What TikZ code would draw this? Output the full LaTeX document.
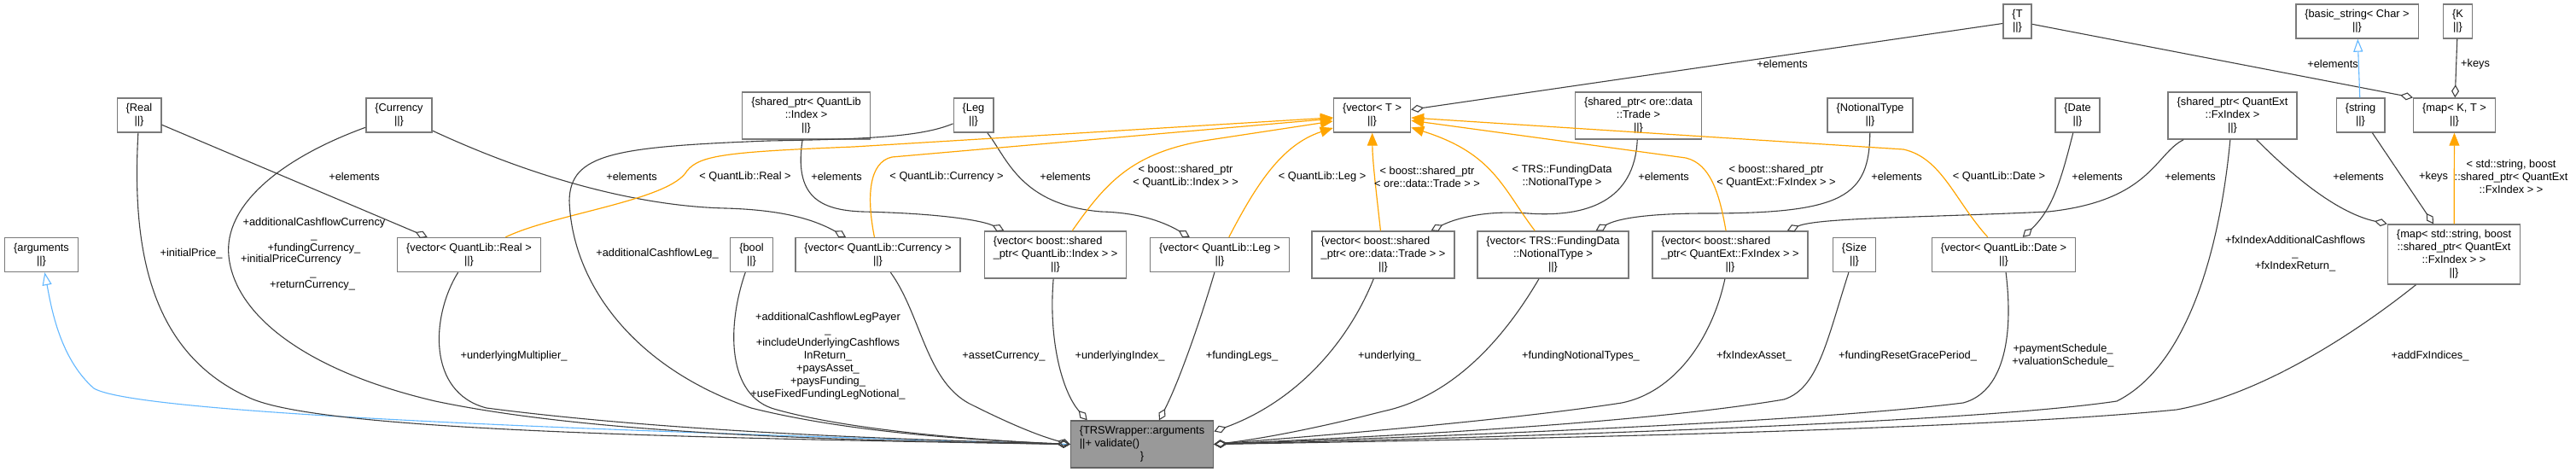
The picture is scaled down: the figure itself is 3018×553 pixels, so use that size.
\documentclass[tikz,border=0pt]{standalone}
\usepackage{fontspec}
\setmainfont{Liberation Sans}
\usetikzlibrary{arrows.meta}
\definecolor{edgegray}{HTML}{404040}
\definecolor{tmplorange}{HTML}{FFA500}
\definecolor{inhblue}{HTML}{63B8FF}
\definecolor{boxgray}{HTML}{7A7A7A}
\definecolor{mainfill}{HTML}{999999}
\newcommand{\dfont}{\fontsize{12.8}{15}\selectfont}

\begin{document}
\begin{tikzpicture}[x=1pt, y=-1pt,
        cls/.style={rectangle, draw=boxgray, line width=1.4pt, fill=white, align=center, inner xsep=10.5pt, inner ysep=6.5pt, font=\dfont},
        mainbox/.style={cls, fill=mainfill, draw=boxgray!80!black},
        lbl/.style={align=center, inner sep=0pt, font=\dfont},
        member/.style={draw=edgegray, line width=1.1pt, -{Diamond[open, length=15pt, width=9pt]}},
        tmpl/.style={draw=tmplorange, line width=1.2pt, -{Triangle[length=15pt, width=12pt]}},
        inherit/.style={draw=inhblue, line width=1.1pt, -{Triangle[open, length=15pt, width=11pt]}}
    ]
        \fill[white] (0,0) rectangle (3018,553);
        \useasboundingbox (0,0) rectangle (3018,553);

        % Fila superior
        \node[cls] (tparam) at (2363.5,25) {\{T\\||\}};
        \node[cls] (basicstring) at (2761.5,25) {\{basic\_string< Char >\\||\}};
        \node[cls] (kparam) at (2879.5,25) {\{K\\||\}};

        % Tipos de los miembros
        \node[cls] (real) at (163,135) {\{Real\\||\}};
        \node[cls] (currency) at (467.5,135) {\{Currency\\||\}};
        \node[cls] (sptrindex) at (944.5,135.5) {\{shared\_ptr< QuantLib\\::Index >\\||\}};
        \node[cls] (leg) at (1140.5,135) {\{Leg\\||\}};
        \node[cls] (vect) at (1607.5,135) {\{vector< T >\\||\}};
        \node[cls] (sptrtrade) at (1919.5,135.5) {\{shared\_ptr< ore::data\\::Trade >\\||\}};
        \node[cls] (notionaltype) at (2191,135) {\{NotionalType\\||\}};
        \node[cls] (date) at (2434,135) {\{Date\\||\}};
        \node[cls] (sptrfx) at (2615.5,135.5) {\{shared\_ptr< QuantExt\\::FxIndex >\\||\}};
        \node[cls] (string) at (2765.5,135) {\{string\\||\}};
        \node[cls] (mapkt) at (2875.5,135) {\{map< K, T >\\||\}};

        % Contenedores
        \node[cls] (arguments) at (48.5,298.5) {\{arguments\\||\}};
        \node[cls] (vecreal) at (549.5,298.5) {\{vector< QuantLib::Real >\\||\}};
        \node[cls] (bool) at (880.5,298.5) {\{bool\\||\}};
        \node[cls] (veccurrency) at (1028.5,298.5) {\{vector< QuantLib::Currency >\\||\}};
        \node[cls, inner ysep=5pt] (vecindex) at (1236.5,298.5) {\begin{tabular}{@{}l@{}}\{vector< boost::shared\\\_ptr< QuantLib::Index > >\\\multicolumn{1}{@{}c@{}}{||\}}\end{tabular}};
        \node[cls] (veclegs) at (1429,298.5) {\{vector< QuantLib::Leg >\\||\}};
        \node[cls, inner ysep=5pt] (vectrade) at (1620.5,298.5) {\begin{tabular}{@{}l@{}}\{vector< boost::shared\\\_ptr< ore::data::Trade > >\\\multicolumn{1}{@{}c@{}}{||\}}\end{tabular}};
        \node[cls] (vecnotional) at (1819.5,298.5) {\{vector< TRS::FundingData\\::NotionalType >\\||\}};
        \node[cls, inner ysep=5pt] (vecfx) at (2027,298.5) {\begin{tabular}{@{}l@{}}\{vector< boost::shared\\\_ptr< QuantExt::FxIndex > >\\\multicolumn{1}{@{}c@{}}{||\}}\end{tabular}};
        \node[cls] (size) at (2172.5,298.5) {\{Size\\||\}};
        \node[cls] (vecdate) at (2347.5,298.5) {\{vector< QuantLib::Date >\\||\}};
        \node[cls] (mapfx) at (2875,298) {\{map< std::string, boost\\::shared\_ptr< QuantExt\\::FxIndex > >\\||\}};

        \node[mainbox, inner ysep=5pt] (trs) at (1338,520.5) {\begin{tabular}{@{}l@{}}\{TRSWrapper::arguments\\||+ validate()\\\multicolumn{1}{@{}c@{}}{\}}\end{tabular}};

        % Aristas +elements / +keys
        \draw[member] (real) -- (vecreal);
        \draw[member] (currency) .. controls (640,215) and (760,242) .. (850,244) .. controls (920,246) and (955,258) .. (veccurrency);
        \draw[member] (sptrindex) .. controls (930,230) and (960,246) .. (1010,248) .. controls (1100,250) and (1150,258) .. (vecindex);
        \draw[member] (leg) .. controls (1180,185) and (1195,240) .. (1290,248) .. controls (1330,249) and (1360,258) .. (veclegs);
        \draw[member] (sptrtrade) .. controls (1915,235) and (1860,255) .. (1790,250) .. controls (1740,246) and (1705,256) .. (vectrade);
        \draw[member] (notionaltype) .. controls (2190,230) and (2160,250) .. (2000,250) .. controls (1930,250) and (1895,256) .. (vecnotional);
        \draw[member] (sptrfx) .. controls (2525,180) and (2520,235) .. (2400,248) .. controls (2250,255) and (2130,255) .. (vecfx);
        \draw[member] (date) .. controls (2415,210) and (2405,245) .. (vecdate);
        \draw[member] (tparam) -- (vect);
        \draw[member] (tparam) -- (mapkt.north west);
        \draw[member] (kparam) -- (mapkt);
        \draw[member] (string) -- (mapfx);
        \draw[member] (sptrfx) .. controls (2690,210) and (2740,250) .. (mapfx.north west);
        \draw[inherit] (string) -- (basicstring);

        % Instancias de plantilla
        \draw[tmpl] (vecreal) .. controls (650,250) and (785,235) .. (805,200) .. controls (820,182) and (850,178) .. (1000,172) -- (vect);
        \draw[tmpl] (veccurrency) .. controls (1015,230) and (1018,190) .. (1045,184) -- (vect);
        \draw[tmpl] (vecindex) .. controls (1295,215) and (1325,180) .. (1410,165) -- (vect);
        \draw[tmpl] (veclegs) .. controls (1470,220) and (1500,170) .. (vect);
        \draw[tmpl] (vectrade) .. controls (1613,230) and (1608,190) .. (vect);
        \draw[tmpl] (vecnotional) .. controls (1760,220) and (1750,180) .. (vect);
        \draw[tmpl] (vecfx) .. controls (2015,230) and (2005,192) .. (1975,185) -- (vect);
        \draw[tmpl] (vecdate) .. controls (2290,235) and (2275,185) .. (2230,175) -- (vect);
        \draw[tmpl] (mapfx) -- (mapkt);

        % Herencia
        \draw[inherit] (trs.west) .. controls (700,505) and (160,485) .. (110,455) .. controls (70,420) and (60,360) .. (arguments);

        % Miembros de TRSWrapper::arguments
        \draw[member] (real) .. controls (155,280) and (170,410) .. (290,465) .. controls (360,500) and (700,512) .. (trs.west);
        \draw[member] (currency) .. controls (330,185) and (262,240) .. (268,300) .. controls (275,370) and (360,435) .. (510,470) .. controls (700,510) and (1000,516) .. (trs.west);
        \draw[member] (vecreal) .. controls (505,370) and (500,460) .. (570,478) .. controls (800,508) and (1100,516) .. (trs.west);
        \draw[member] (leg) .. controls (1080,160) and (1020,163) .. (900,165) .. controls (720,172) and (668,180) .. (667,235) .. controls (670,330) and (740,430) .. (880,478) .. controls (1000,508) and (1150,516) .. (trs.west);
        \draw[member] (bool) .. controls (852,380) and (850,465) .. (910,480) .. controls (1000,505) and (1150,516) .. (trs.west);
        \draw[member] (veccurrency) .. controls (1080,370) and (1085,450) .. (1140,475) .. controls (1180,495) and (1215,510) .. (trs.west);
        \draw[member] (vecindex) .. controls (1228,400) and (1245,460) .. ([xshift=20pt]trs.north west);
        \draw[member] (veclegs) .. controls (1405,380) and (1380,450) .. ([xshift=20pt]trs.north);
        \draw[member] (vectrade) .. controls (1580,400) and (1520,470) .. ([yshift=15pt]trs.east);
        \draw[member] (vecnotional) .. controls (1760,400) and (1700,465) .. (1620,482) .. controls (1550,500) and (1480,514) .. (trs.east);
        \draw[member] (vecfx) .. controls (2005,400) and (1960,460) .. (1900,472) .. controls (1750,495) and (1500,514) .. (trs.east);
        \draw[member] (size) .. controls (2140,400) and (2130,455) .. (2090,468) .. controls (1900,500) and (1550,514) .. (trs.east);
        \draw[member] (vecdate) .. controls (2360,400) and (2345,460) .. (2300,472) .. controls (2100,497) and (1600,514) .. (trs.east);
        \draw[member] (sptrfx) .. controls (2600,300) and (2560,430) .. (2480,470) .. controls (2300,497) and (1700,514) .. (trs.east);
        \draw[member] (mapfx) .. controls (2760,390) and (2650,462) .. (2550,480) .. controls (2300,505) and (1700,516) .. (trs.east);

        % Etiquetas de las aristas
        \node[lbl] (lrealel) at (415,207) {+elements};
        \node[lbl] (lcurel) at (740,207) {+elements};
        \node[lbl] (lrealtp) at (873,207) {< QuantLib::Real >};
        \node[lbl] (lindexel) at (980,207) {+elements};
        \node[lbl] (lcurtp) at (1109,207) {< QuantLib::Currency >};
        \node[lbl] (llegel) at (1248,207) {+elements};
        \node[lbl] (lindextp) at (1389,207) {< boost::shared\_ptr\\< QuantLib::Index > >};
        \node[lbl] (llegtp) at (1549,207) {< QuantLib::Leg >};
        \node[lbl] (ltradetp) at (1672,207) {< boost::shared\_ptr\\< ore::data::Trade > >};
        \node[lbl] (lnotiontp) at (1830,207) {< TRS::FundingData\\::NotionalType >};
        \node[lbl] (ltradeel) at (1949,207) {+elements};
        \node[lbl] (lfxtp) at (2081,207) {< boost::shared\_ptr\\< QuantExt::FxIndex > >};
        \node[lbl] (lnotionel) at (2222,207) {+elements};
        \node[lbl] (ldatetp) at (2342,207) {< QuantLib::Date >};
        \node[lbl] (ldateel) at (2457,207) {+elements};
        \node[lbl] (lfxel) at (2566,207) {+elements};
        \node[lbl] (lmapel) at (2763,207) {+elements};
        \node[lbl] (lstrkeys) at (2851,207) {+keys};
        \node[lbl] (lmaptp) at (2942,207) {< std::string, boost\\::shared\_ptr< QuantExt\\::FxIndex > >};
        \node[lbl] (ltel) at (2088,75) {+elements};
        \node[lbl] (ltmapel) at (2733,75) {+elements};
        \node[lbl] (lkkeys) at (2900,75) {+keys};

        \node[lbl] (linitprice) at (224,297) {+initialPrice\_};
        \node[lbl] (lcurA) at (368,276) {+additionalCashflowCurrency\\\_\\+fundingCurrency\_};
        \node[lbl] (lcurB1) at (341,304) {+initialPriceCurrency};
        \node[lbl, anchor=base] (lcurB2) at (367,323) {\_};
        \node[lbl] (lcurB3) at (366,334) {+returnCurrency\_};
        \node[lbl] (lmult) at (602,417) {+underlyingMultiplier\_};
        \node[lbl] (laddleg) at (770,297) {+additionalCashflowLeg\_};
        \node[lbl] (lbool) at (970,417) {+additionalCashflowLegPayer\\\_\\+includeUnderlyingCashflows\\InReturn\_\\+paysAsset\_\\+paysFunding\_\\+useFixedFundingLegNotional\_};
        \node[lbl] (lassetcur) at (1176,417) {+assetCurrency\_};
        \node[lbl] (lundindex) at (1312,417) {+underlyingIndex\_};
        \node[lbl] (lfundlegs) at (1455,417) {+fundingLegs\_};
        \node[lbl] (lunderl) at (1628,417) {+underlying\_};
        \node[lbl] (lfundnot) at (1852,417) {+fundingNotionalTypes\_};
        \node[lbl] (lfxasset) at (2055,417) {+fxIndexAsset\_};
        \node[lbl] (lgrace) at (2235,417) {+fundingResetGracePeriod\_};
        \node[lbl] (lsched) at (2417,417) {+paymentSchedule\_\\+valuationSchedule\_};
        \node[lbl] (lfxret) at (2689,297.5) {+fxIndexAdditionalCashflows\\\_\\+fxIndexReturn\_};
        \node[lbl] (laddfx) at (2847,417) {+addFxIndices\_};
    \end{tikzpicture}
\end{document}
